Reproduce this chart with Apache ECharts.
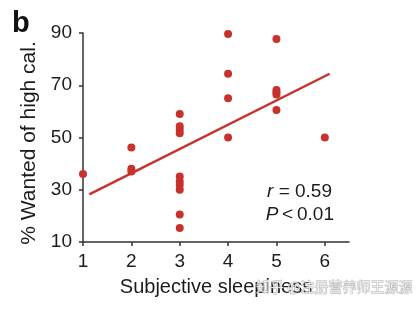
<!DOCTYPE html>
<html>
<head>
<meta charset="utf-8">
<script src="https://cdn.jsdelivr.net/npm/echarts@6/dist/echarts.min.js"></script>
<style>html,body{margin:0;padding:0;background:#fff}#c{width:417px;height:309px}</style>
</head>
<body>
<div id="c"></div>
<script>
var sleepiness = [1, 2, 2, 2, 3, 3, 3, 3, 3, 3, 3, 3, 3, 3, 4, 4, 4, 4, 5, 5, 5, 5, 5, 6];
var wantedHighCal = [36, 46.2, 38, 37, 59, 54.3, 53, 51.6, 35.1, 33.2, 31.8, 30, 20.5, 15.4, 89.6, 74.4, 65, 50, 87.7, 68.2, 67.3, 66.5, 60.5, 50];
var fitX = [1.13, 6.1];
var fitY = [28.2, 74.4];
var xTicks = [1, 2, 3, 4, 5, 6];
var yTicks = [10, 30, 50, 70, 90];
var annotR = '0.59';
var annotP = '0.01';

var red = '#c8322d';
var ink = '#1c1c1c';
var font = '"Liberation Sans", Arial, sans-serif';

var chart = echarts.init(document.getElementById('c'), null, {renderer: 'canvas'});
chart.setOption({
  animation: false,
  backgroundColor: '#fff',
  grid: {left: 83, right: 68, top: 33, bottom: 67, containLabel: false, outerBoundsMode: 'none'},
  xAxis: {
    type: 'value', min: 1, max: 6.5,
    name: 'Subjective sleepiness', nameLocation: 'middle', nameGap: 35,
    nameTextStyle: {fontFamily: font, fontSize: 20, color: ink},
    axisLine: {show: true, onZero: false, lineStyle: {color: '#333', width: 1.5}},
    axisTick: {show: true, length: 4, lineStyle: {color: '#333', width: 1.5}, customValues: xTicks},
    axisLabel: {fontFamily: font, fontSize: 19, color: ink, margin: 10, customValues: xTicks},
    splitLine: {show: false}
  },
  yAxis: {
    type: 'value', min: 10, max: 90,
    name: '% Wanted of high cal.', nameLocation: 'middle', nameGap: 42, nameRotate: 90,
    nameTextStyle: {fontFamily: font, fontSize: 21, color: ink, padding: [0, 11, 0, 0]},
    axisLine: {show: true, onZero: false, lineStyle: {color: '#333', width: 1.5}},
    axisTick: {show: true, length: 4, lineStyle: {color: '#333', width: 1.5}, customValues: yTicks},
    axisLabel: {fontFamily: font, fontSize: 19, color: ink, margin: 11, customValues: yTicks},
    splitLine: {show: false}
  },
  series: [
    {
      type: 'line',
      data: fitX.map(function (x, i) { return [x, fitY[i]]; }),
      symbol: 'none',
      lineStyle: {color: red, width: 2.5},
      z: 2
    },
    {
      type: 'scatter',
      data: sleepiness.map(function (x, i) { return [x, wantedHighCal[i]]; }),
      symbol: 'circle',
      symbolSize: 8,
      itemStyle: {color: red, opacity: 1},
      z: 3
    }
  ],
  graphic: [
    {type: 'text', left: 12, top: 9, style: {text: 'b', font: 'bold 29px ' + font, fill: '#111'}},
    {type: 'text', x: 332, y: 192, style: {
      text: '{i|r}{n| = ' + annotR + '}', align: 'right', verticalAlign: 'middle',
      rich: {i: {fontFamily: font, fontStyle: 'italic', fontSize: 19, fill: ink}, n: {fontFamily: font, fontSize: 19, fill: ink}}
    }},
    {type: 'text', x: 334, y: 215, style: {
      text: '{i|P}{n|\u2009<\u2009' + annotP + '}', align: 'right', verticalAlign: 'middle',
      rich: {i: {fontFamily: font, fontStyle: 'italic', fontSize: 19, fill: ink}, n: {fontFamily: font, fontSize: 19, fill: ink}}
    }},
    {type: 'text', x: 256, y: 287, z: 100, style: {
      text: '知乎 @注册营养师王源源', verticalAlign: 'middle',
      font: '14px "Noto Sans CJK SC", sans-serif', fill: 'rgba(245,245,245,0.85)', stroke: 'rgba(140,140,140,0.7)', lineWidth: 0.8
    }}
  ]
});
</script>
</body>
</html>
